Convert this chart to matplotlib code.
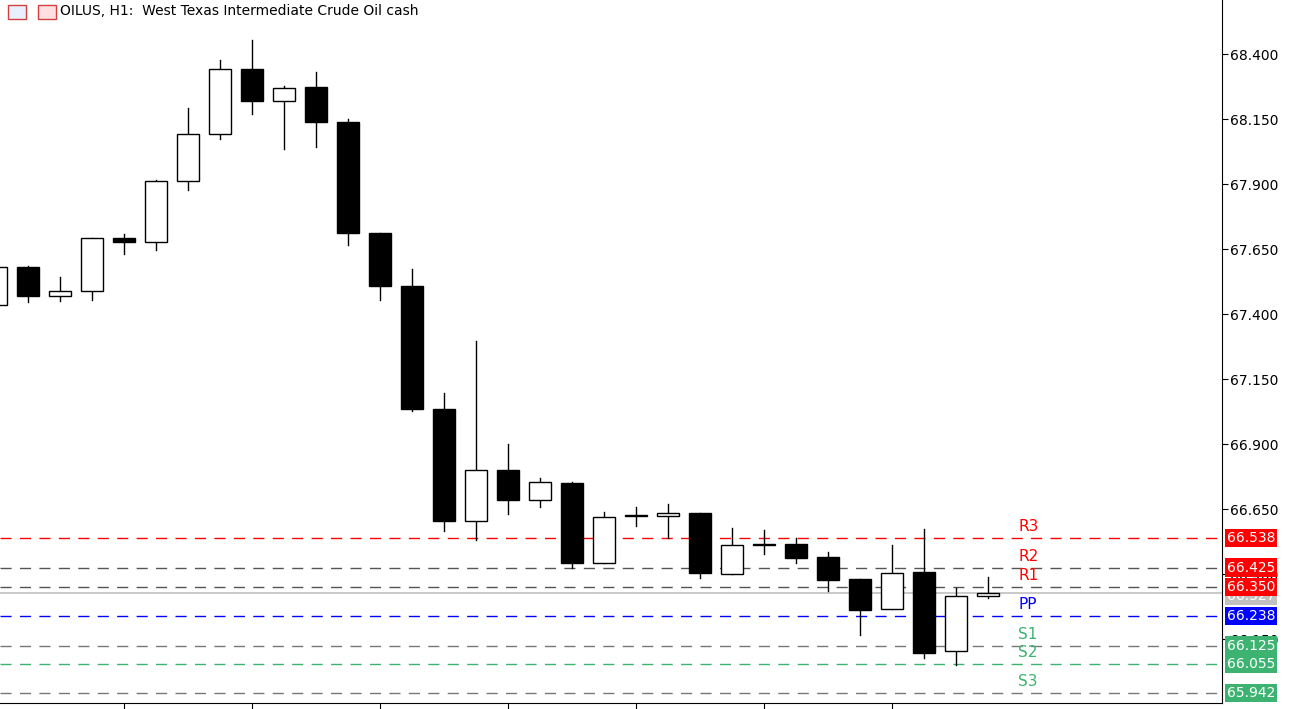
import matplotlib
matplotlib.use("Agg")
import matplotlib.pyplot as plt
from matplotlib.patches import Rectangle

opens  = [67.435,67.581,67.469,67.488,67.692,67.677,67.912,68.092,68.342,68.219,68.273,68.138,67.712,67.508,67.035,66.604,66.800,66.685,66.750,66.442,66.623,66.623,66.635,66.400,66.512,66.515,66.465,66.381,66.265,66.408,66.104,66.315]
highs  = [67.581,67.585,67.542,67.692,67.708,67.915,68.192,68.377,68.454,68.277,68.331,68.150,67.712,67.573,67.096,67.296,66.900,66.769,66.754,66.638,66.658,66.669,66.635,66.577,66.569,66.538,66.485,66.381,66.512,66.573,66.346,66.388]
lows   = [67.435,67.446,67.450,67.454,67.631,67.646,67.877,68.073,68.169,68.035,68.042,67.665,67.454,67.027,66.565,66.531,66.631,66.658,66.423,66.442,66.585,66.538,66.385,66.400,66.477,66.442,66.335,66.165,66.265,66.077,66.050,66.308]
closes = [67.581,67.469,67.488,67.692,67.677,67.912,68.092,68.342,68.219,68.269,68.138,67.712,67.508,67.035,66.604,66.800,66.685,66.754,66.442,66.619,66.627,66.635,66.404,66.512,66.515,66.462,66.377,66.262,66.404,66.096,66.315,66.327]

level_names  = ["R3","R2","R1","PP","S1","S2","S3"]
level_values = [66.538,66.425,66.350,66.238,66.125,66.055,65.942]
level_colors = ["#ff0000","#ff0000","#ff0000","#0000ff","#3cb371","#3cb371","#3cb371"]
line_colors  = ["#ff0000","#555555","#555555","#0000ff","#777777","#3cb371","#777777"]
current_price = 66.327
yticks = [66.150,66.400,66.650,66.900,67.150,67.400,67.650,67.900,68.150,68.400]

W, H = 1291, 709
fig = plt.figure(figsize=(W/100, H/100), dpi=100)
ax = fig.add_axes([0, 6/H, 1222/W, 703/H])
xs = list(range(len(opens)))
bw = 0.69
for x, o, h, l, c in zip(xs, opens, highs, lows, closes):
    ax.plot([x, x], [l, h], color="black", lw=1, zorder=3)
    bot, top = min(o, c), max(o, c)
    ht = max(top - bot, 0.001)
    ax.add_patch(Rectangle((x - bw/2, bot), bw, ht, facecolor="black" if c < o else "white",
                           edgecolor="black", lw=1, zorder=4))

ax.axhline(current_price, color="#c0c0c0", lw=1.2, zorder=2)
for n, v, tc, lc in zip(level_names, level_values, level_colors, line_colors):
    ax.axhline(v, color=lc, lw=1, dashes=(8, 6), zorder=1)
    ax.text(31.95, v + 0.015, n, color=tc, fontsize=11, va="bottom", ha="left", zorder=5)
    ax.text(1.004, v, f"{v:.3f}", transform=ax.get_yaxis_transform(), color="white",
            fontsize=10, va="center", ha="left", zorder=6, clip_on=False,
            bbox=dict(boxstyle="square,pad=0.15", fc=tc, ec="none"))
ax.text(1.004, current_price - 0.01, f"{current_price:.3f}", transform=ax.get_yaxis_transform(),
        color="white", fontsize=10, va="center", ha="left", zorder=5.5, clip_on=False,
        bbox=dict(boxstyle="square,pad=0.15", fc="#c0c0c0", ec="none"))

ax.set_xlim(0.125, 0.125 + 1222/32)
ax.set_ylim(65.904, 68.608)
ax.yaxis.tick_right()
ax.set_yticks(yticks)
ax.set_yticklabels([f"{t:.3f}" for t in yticks], fontsize=10)
ax.tick_params(axis="y", direction="out", length=4, pad=2)
ax.set_xticks([4, 8, 12, 16, 20, 24, 28])
ax.set_xticklabels([])
ax.tick_params(axis="x", direction="out", length=5)
for s in ["top", "left"]:
    ax.spines[s].set_visible(False)

fig.patches.append(Rectangle((8, H-19), 18, 14, transform=None, fc="#e8f0ff", ec="#d04040", lw=1))
fig.patches.append(Rectangle((38, H-19), 18, 14, transform=None, fc="#ffe0e0", ec="#d04040", lw=1))
fig.text(60/W, 1 - 11/H, "OILUS, H1:  West Texas Intermediate Crude Oil cash", fontsize=10, va="center")
fig.savefig("out.png", dpi=100)
